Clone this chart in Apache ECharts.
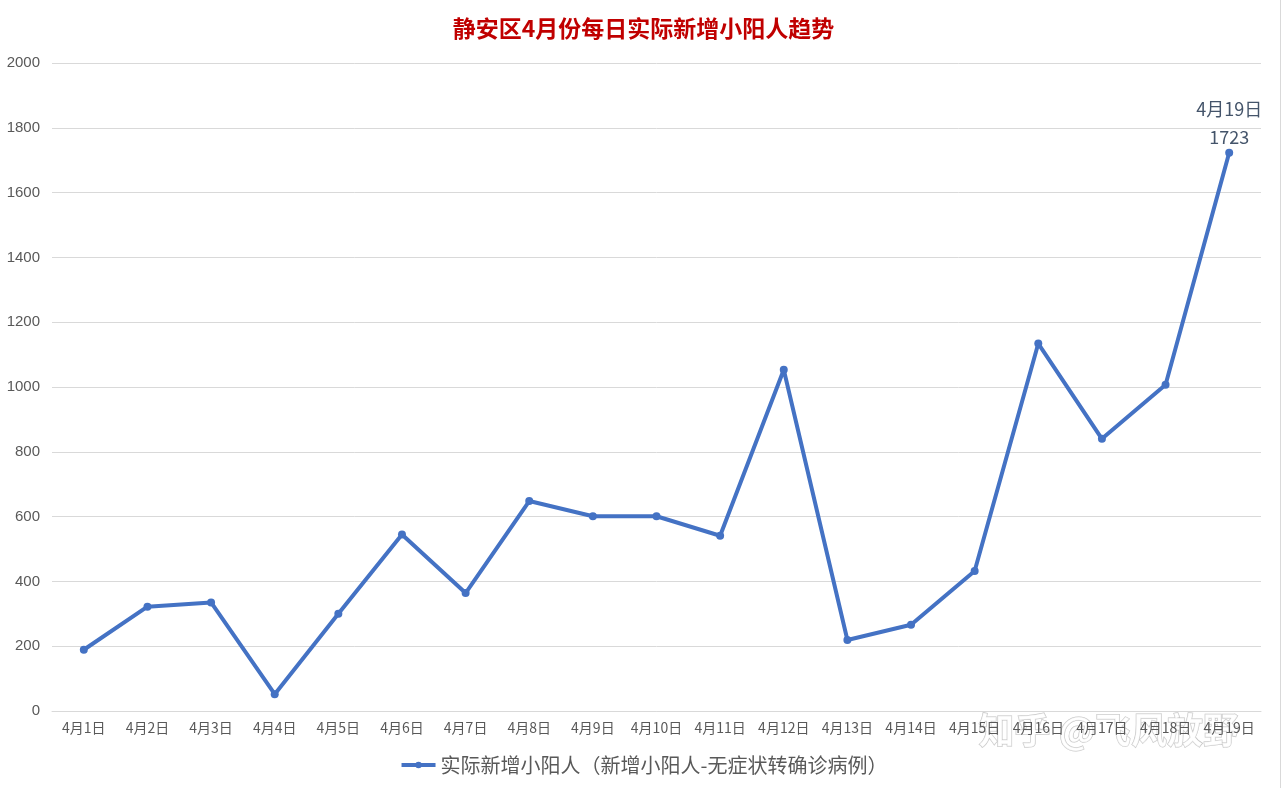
<!DOCTYPE html>
<html><head><meta charset="utf-8">
<script src="https://cdn.jsdelivr.net/npm/echarts@6/dist/echarts.min.js"></script>
<style>html,body{margin:0;padding:0;background:#fff}#c{width:1287px;height:788px}</style>
</head><body><div id="c"></div>
<script>
const categories = ['4月1日','4月2日','4月3日','4月4日','4月5日','4月6日','4月7日','4月8日','4月9日','4月10日','4月11日','4月12日','4月13日','4月14日','4月15日','4月16日','4月17日','4月18日','4月19日'];
const values = [189, 322, 335, 52, 300, 545, 364, 648, 601, 601, 541, 1053, 219, 266, 432, 1134, 840, 1007, 1723];
const yTicks = [0, 200, 400, 600, 800, 1000, 1200, 1400, 1600, 1800, 2000];
const seriesName = '实际新增小阳人（新增小阳人-无症状转确诊病例）';
const titleText = '静安区4月份每日实际新增小阳人趋势';

const font = '"Noto Sans CJK SC", "Liberation Sans", sans-serif';
const chart = echarts.init(document.getElementById('c'));
const lastIdx = values.length - 1;
chart.setOption({
  animation: false,
  title: { text: titleText, left: 'center', top: 12,
    textStyle: { color: '#C00000', fontSize: 23, fontWeight: 'bold', fontFamily: font } },
  grid: { left: 52, right: 26, top: 63, bottom: 77 },
  legend: { bottom: 8, left: 'center', itemWidth: 34, itemHeight: 8, itemGap: 4,
    lineStyle: { width: 4 },
    textStyle: { color: '#595959', fontSize: 20, fontFamily: font },
    data: [seriesName] },
  xAxis: { type: 'category', data: categories, boundaryGap: true,
    axisLine: { lineStyle: { color: '#D9D9D9' } }, axisTick: { show: false },
    axisLabel: { color: '#595959', fontSize: 14, fontFamily: font, margin: 10, interval: 0 } },
  yAxis: { type: 'value', min: yTicks[0], max: yTicks[yTicks.length-1], interval: 200,
    axisLine: { show: false }, axisTick: { show: false },
    splitLine: { lineStyle: { color: '#D9D9D9' } },
    axisLabel: { color: '#595959', fontSize: 15, fontFamily: '"Liberation Sans", Arial, sans-serif', margin: 12,
      formatter: v => String(v) } },
  series: [{ name: seriesName, type: 'line', data: values.map((v, i) => i === lastIdx ? {
      value: v, label: { show: true, position: 'top', distance: -2,
        formatter: categories[i] + '\n' + v, color: '#44546A', fontSize: 18, lineHeight: 28, fontFamily: font } } : v),
    symbol: 'circle', symbolSize: 8,
    lineStyle: { color: '#4472C4', width: 4 },
    itemStyle: { color: '#4472C4' } }],
  graphic: [
    { type: 'line', shape: { x1: 1280.5, y1: 0, x2: 1280.5, y2: 788 }, style: { stroke: '#D9D9D9', lineWidth: 1 } },
    { type: 'text', left: 978, top: 712, style: { text: '知乎 @飞风放野', font: 'bold 36px "Noto Sans CJK SC"', fill: 'rgba(255,255,255,0.7)', stroke: 'rgba(150,150,150,0.6)', lineWidth: 1 } }
  ]
});
</script></body></html>
